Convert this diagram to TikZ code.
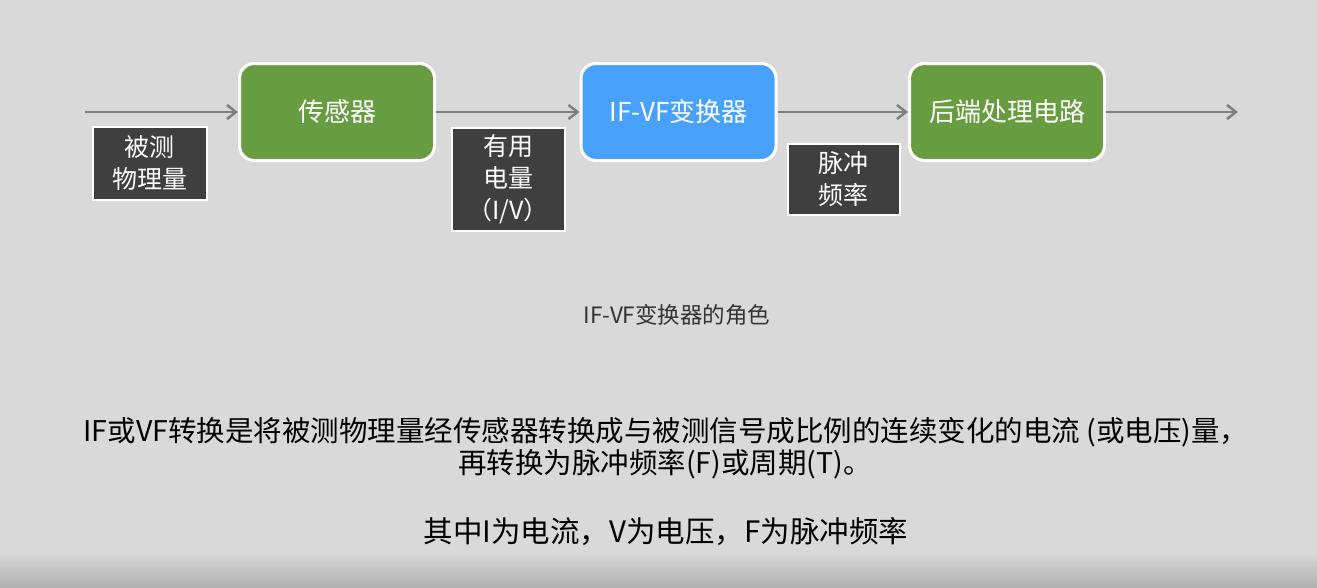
\documentclass[tikz,border=0pt]{standalone}
\usepackage{fontspec}
\setmainfont{Noto Sans CJK SC}
\usetikzlibrary{arrows.meta}
\definecolor{bg}{HTML}{D9D9D9}
\definecolor{bgdark}{HTML}{B0B0B0}
\definecolor{stagegreen}{HTML}{679D40}
\definecolor{stageblue}{HTML}{48A2FC}
\definecolor{tagdark}{HTML}{3F3F3F}
\definecolor{flowgray}{HTML}{7F7F7F}
\definecolor{captiongray}{HTML}{333333}
\begin{document}
\begin{tikzpicture}[x=1pt,y=-1pt,
  stage/.style={draw=white,line width=3pt,rounded corners=15pt,
    minimum width=195pt,minimum height=97pt,text=white,
    font=\fontsize{26}{30}\selectfont,inner sep=0pt},
  tag/.style={draw=white,line width=2pt,fill=tagdark,text=white,
    font=\fontsize{25}{32}\selectfont,align=center,inner sep=0pt},
  flow/.style={draw=flowgray,line width=2.5pt,
    -{Straight Barb[length=9pt,width=14pt,line width=2.5pt]}},
  body/.style={font=\fontsize{28.5}{33}\selectfont,text=black,inner sep=0pt}]
  % background with a soft dark band at the bottom edge
  \fill[bg] (0,0) rectangle (1317,587);
  \shade[top color=bg,bottom color=bgdark] (0,553) rectangle (1317,587);
  \useasboundingbox (0,0) rectangle (1317,587);

  % signal chain
  \coordinate (in) at (85,112);
  \coordinate (out) at (1238,112);
  \node[stage,fill=stagegreen] (sensor) at (337,112) {传感器};
  \node[stage,fill=stageblue] (conv) at (678.5,112) {IF-VF变换器};
  \node[stage,fill=stagegreen] (back) at (1007,112) {后端处理电路};

  \draw[flow] (in) -- (sensor.west);
  \draw[flow] (sensor.east) -- (conv.west);
  \draw[flow] (conv.east) -- (back.west);
  \draw[flow] (back.east) -- (out);

  % quantity tags under the connectors
  \node[tag,minimum width=114pt,minimum height=73pt] (q1) at (149.5,163) {被测\\物理量};
  \node[tag,minimum width=113pt,minimum height=103pt] (q2) at (508,179) {有用\\电量\\（I/V）};
  \node[tag,minimum width=112pt,minimum height=71pt] (q3) at (843.5,179) {脉冲\\频率};

  % caption and explanation
  \node[font=\fontsize{22.5}{26}\selectfont,text=captiongray,inner sep=0pt] (cap) at (677,315) {IF-VF变换器的角色};
  \node[body] (l1) at (666,432) {IF或VF转换是将被测物理量经传感器转换成与被测信号成比例的连续变化的电流 (或电压)量，};
  \node[body] (l2) at (665,464) {再转换为脉冲频率(F)或周期(T)。};
  \node[body,font=\fontsize{29.5}{34}\selectfont] (l3) at (666,532) {其中I为电流，V为电压，F为脉冲频率};
\end{tikzpicture}
\end{document}
